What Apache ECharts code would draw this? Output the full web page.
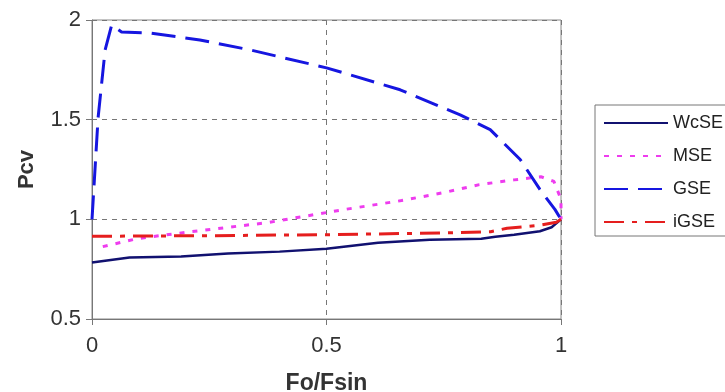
<!DOCTYPE html>
<html>
<head>
<meta charset="utf-8">
<script src="https://cdn.jsdelivr.net/npm/echarts@6/dist/echarts.min.js"></script>
<style>
  html, body { margin: 0; padding: 0; background: #fff; }
  #main { width: 725px; height: 392px; }
</style>
</head>
<body>
<div id="main"></div>
<script>
// curve values
const seriesNames = ['WcSE', 'MSE', 'GSE', 'iGSE']

const wcseX = [0, 0.08, 0.19, 0.29, 0.40, 0.50, 0.61, 0.72, 0.83, 0.86, 0.90, 0.955, 0.98, 1.0]
const wcseY = [0.783, 0.808, 0.813, 0.828, 0.838, 0.853, 0.883, 0.898, 0.903, 0.913, 0.923, 0.94, 0.96, 1.0]

const mseX = [0.023, 0.096, 0.194, 0.373, 0.5, 0.54, 0.66, 0.75, 0.826, 0.9, 0.957, 0.985, 1.0, 1.0]
const mseY = [0.863, 0.903, 0.933, 0.983, 1.034, 1.05, 1.094, 1.134, 1.174, 1.198, 1.214, 1.19, 1.1, 1.0]

const gseX = [0, 0.013, 0.028, 0.042, 0.063, 0.124, 0.23, 0.337, 0.5, 0.657, 0.785, 0.849, 0.913, 0.955, 0.987, 1.0]
const gseY = [1.0, 1.51, 1.85, 1.975, 1.94, 1.935, 1.90, 1.85, 1.76, 1.65, 1.524, 1.45, 1.30, 1.15, 1.05, 1.0]

const igseX = [0, 0.25, 0.5, 0.757, 0.85, 0.885, 0.955, 0.99, 1.0]
const igseY = [0.915, 0.918, 0.923, 0.932, 0.938, 0.955, 0.97, 0.985, 1.0]

const xTicks = [0, 0.5, 1]
const yTicks = [0.5, 1, 1.5, 2]

const pairs = (xs, ys) => xs.map((x, i) => [x, ys[i]])

const makeLine = (name, xs, ys, color, width, type) => ({
    name: name,
    type: 'line',
    symbol: 'none',
    data: pairs(xs, ys),
    lineStyle: { color: color, width: width, type: type },
    itemStyle: { color: color }
})

const series = [
    makeLine(seriesNames[0], wcseX, wcseY, '#111170', 2.5, 'solid'),
    makeLine(seriesNames[1], mseX, mseY, '#ee3cee', 3, [5, 8]),
    makeLine(seriesNames[2], gseX, gseY, '#1616e0', 3, [24, 10]),
    makeLine(seriesNames[3], igseX, igseY, '#e51e1e', 3, [20, 8, 5, 8])
]

const font = 'Liberation Sans, Arial'
const gridLine = { show: true, lineStyle: { color: '#777', type: [5, 5], width: 1 } }

const option = {
    animation: false,
    grid: {
        left: 92, right: 164, top: 20, bottom: 73,
        outerBoundsMode: 'none',
        containLabel: false,
        show: true, borderColor: '#888', borderWidth: 1
    },
    legend: {
        data: seriesNames,
        orient: 'vertical',
        left: 595,
        top: 105,
        itemWidth: 64,
        itemHeight: 14,
        itemGap: 15,
        padding: [9, 60, 5, 8],
        borderColor: '#777',
        borderWidth: 1,
        itemStyle: { opacity: 0 },
        textStyle: { fontFamily: font, fontSize: 18, color: '#222' }
    },
    xAxis: {
        type: 'value',
        min: xTicks[0],
        max: xTicks[xTicks.length - 1],
        interval: 0.5,
        name: 'Fo/Fsin',
        nameLocation: 'middle',
        nameGap: 53,
        nameTextStyle: { fontFamily: font, fontSize: 23, fontWeight: 'bold', color: '#333' },
        axisLine: { lineStyle: { color: '#777' } },
        axisTick: { show: true, length: 6, lineStyle: { color: '#777' } },
        axisLabel: { fontFamily: font, fontSize: 22, color: '#333', margin: 16 },
        splitLine: gridLine
    },
    yAxis: {
        type: 'value',
        min: yTicks[0],
        max: yTicks[yTicks.length - 1],
        interval: 0.5,
        name: 'Pcv',
        nameLocation: 'middle',
        nameGap: 54,
        nameTextStyle: { fontFamily: font, fontSize: 22, fontWeight: 'bold', color: '#333' },
        axisLine: { show: true, onZero: false, lineStyle: { color: '#777' } },
        axisTick: { show: true, length: 6, lineStyle: { color: '#777' } },
        axisLabel: { fontFamily: font, fontSize: 22, color: '#333', margin: 11 },
        splitLine: gridLine
    },
    series: series
}

const myChart = echarts.init(document.getElementById('main'))
myChart.setOption(option)
</script>
</body>
</html>
